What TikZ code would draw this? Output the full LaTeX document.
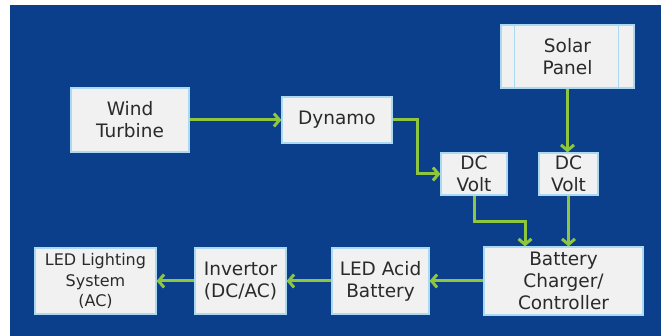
\documentclass[tikz,border=0pt]{standalone}
\usepackage{fontspec}
\setmainfont{DejaVu Sans}
\usepackage{tikz}
\usetikzlibrary{arrows.meta,positioning,calc}
\definecolor{panelblue}{HTML}{0B3F8C}
\definecolor{boxgray}{HTML}{F1F1F1}
\definecolor{rimblue}{HTML}{A9DAF2}
\definecolor{wiregreen}{HTML}{8EC63F}
\definecolor{inkgray}{HTML}{2A2A2A}

\begin{document}
\begin{tikzpicture}[x=1pt,y=-1pt,
  font=\fontsize{18.5}{22}\selectfont,
  box/.style={draw=rimblue,fill=boxgray,line width=1.2pt,text=inkgray,align=center,inner sep=2pt},
  flow/.style={-{Straight Barb[length=5.5pt,width=13pt]},draw=wiregreen,line width=3pt}]
\useasboundingbox (0,0) rectangle (661,336);
% backdrop
\fill[panelblue] (10,5) rectangle (661,336);
% sources
\node[box,minimum width=118pt,minimum height=64pt] (wind) at (130,120) {Wind\\Turbine};
\node[box,minimum width=110pt,minimum height=46pt] (dyn) at (337,120) {Dynamo};
\node[box,minimum width=133pt,minimum height=63pt] (solar) at (567.5,56.5) {Solar\\Panel};
\draw[rimblue,line width=1.2pt] ([xshift=14pt]solar.north west) -- ([xshift=14pt]solar.south west);
\draw[rimblue,line width=1.2pt] ([xshift=-16pt]solar.north east) -- ([xshift=-16pt]solar.south east);
% dc stages
\node[box,minimum width=66pt,minimum height=42pt] (dc1) at (474,174) {DC\\Volt};
\node[box,minimum width=59pt,minimum height=42pt] (dc2) at (568.5,174) {DC\\Volt};
% storage and load
\node[box,minimum width=159pt,minimum height=68pt] (chg) at (563.5,281) {Battery\\Charger/\\Controller};
\node[box,minimum width=97pt,minimum height=66pt] (acid) at (380.5,281) {LED Acid\\Battery};
\node[box,minimum width=91pt,minimum height=66pt] (inv) at (240.5,281) {Invertor\\(DC/AC)};
\node[box,minimum width=121pt,minimum height=66pt,font=\fontsize{16}{20.5}\selectfont] (led) at (95.5,281) {LED Lighting\\System\\(AC)};
% connectors
\draw[flow] (wind.east) -- (dyn.west);
\draw[flow] (dyn.east) -- ++(25,0) |- (dc1.west);
\draw[flow] (solar.south) -- (solar.south |- dc2.north);
\draw[flow] (dc1.south) -- ++(0,26) -| ([xshift=-38.5pt]chg.north);
\draw[flow] (dc2.south) -- (dc2.south |- chg.north);
\draw[flow] (chg.west) -- (acid.east);
\draw[flow] (acid.west) -- (inv.east);
\draw[flow] (inv.west) -- (led.east);
\end{tikzpicture}
\end{document}
